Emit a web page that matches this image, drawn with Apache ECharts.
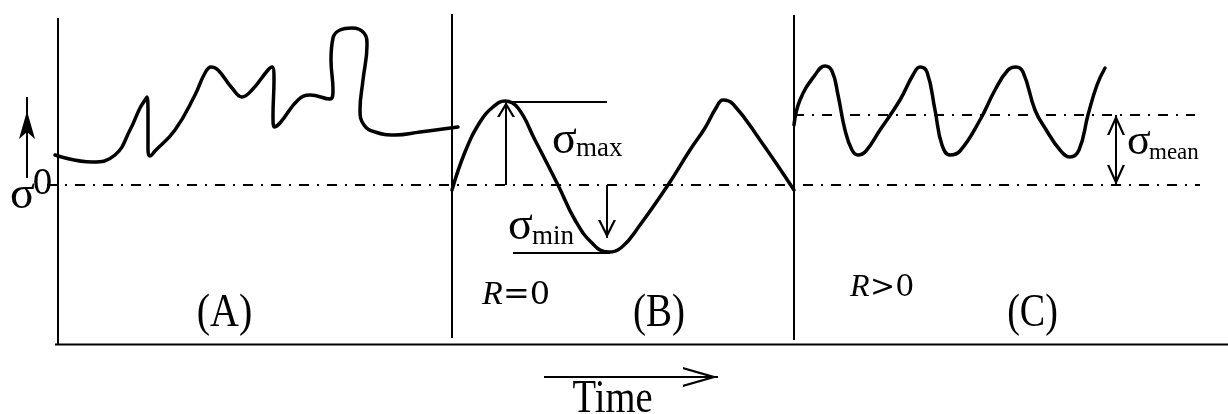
<!DOCTYPE html>
<html>
<head>
<meta charset="utf-8">
<script src="https://cdn.jsdelivr.net/npm/echarts@6/dist/echarts.min.js"></script>
<style>
  html, body { margin: 0; padding: 0; background: #fff; }
  #main { width: 1228px; height: 414px; }
</style>
</head>
<body>
<div id="main"></div>
<script>
// t = time from the left axis, s = stress relative to sigma0 (up is positive)

// (A) irregular loading
const curveA = [[-3,30],[34,23],[57,30],[72,55],[82,77],[87,85],[89,88],[90,70],[90,35],[92,29],[97,34],
  [117,55],[137,90],[147,112],[153,118],[160,115],[174,97],[184,88],[194,95],[210,115],[214,118],
  [216,105],[215,70],[216,58],[222,62],[240,85],[252,90],[272,86],[275,95],[273,125],[275,147],
  [282,155],[294,157],[306,152],[309,140],[305,105],[302,75],[306,60],[317,53],[337,50],[362,53],[400,58]];

// (B) fully reversed, R = 0
const curveB = [[394,-5],[407,33],[422,63],[435,78],[447,84],[460,77],[477,45],[500,0],[517,-35],
  [534,-58],[550,-67],[564,-62],[582,-40],[610,0],[632,35],[647,57],[658,77],[665,85],[675,81],
  [702,45],[736,-5]];

// (C) positive mean stress, R > 0
const curveC = [[736,60],[742,85],[757,110],[767,119],[774,114],[780,90],[787,55],[794,35],[800,30],
  [808,34],[822,55],[842,85],[855,110],[862,118],[869,113],[877,75],[884,40],[892,30],[902,34],
  [922,65],[937,95],[950,115],[958,118],[965,113],[977,75],[987,57],[1002,35],[1012,28],[1021,35],
  [1030,70],[1039,100],[1047,117]];

const sigmaMaxB = 83;
const sigmaMinB = -68;
const sigmaMeanC = 70;
const panelEdges = [394, 736];

// frame, panel separators, sigma_max / sigma_min levels
const solidSegs = [
  [[0,167],[0,-160]],
  [[-3,-159.5],[1170,-159.5]],
  [[panelEdges[0],171],[panelEdges[0],-153]],
  [[panelEdges[1],170],[panelEdges[1],-155]],
  [[447,sigmaMaxB],[549,sigmaMaxB]],
  [[455,sigmaMinB],[552,sigmaMinB]]
];
// dash-dot reference levels
const refSegs = [
  [[-11,0],[1142,0]],
  [[panelEdges[1],sigmaMeanC],[1137,sigmaMeanC]]
];

function chevron(w, h, t) {
  const hw = w / 2;
  const k = t * Math.sqrt(hw * hw + h * h) / h;
  const inner = h * k / hw;
  return 'path://M0,0 L' + hw + ',' + h + ' L' + (hw - k) + ',' + h + ' L0,' + inner +
    ' L' + (k - hw) + ',' + h + ' L' + (-hw) + ',' + h + ' Z';
}

function head(kind, w, h) {
  if (kind === 'none') return {symbol: 'none'};
  return {
    symbol: kind === 'filled' ? 'arrow' : chevron(w, h, 2.2),
    symbolSize: [w, h],
    symbolOffset: [0, h / 2]
  };
}

// arrows: from, to, head at start / end
const arrows = [
  {from: [-31,7], to: [-31,88], a: 'none', b: 'filled', w: 12, h: 28},
  {from: [448,0], to: [448,sigmaMaxB], a: 'none', b: 'open', w: 18, h: 15},
  {from: [549,0], to: [549,-53], a: 'none', b: 'open', w: 18, h: 18},
  {from: [1058,0], to: [1058,sigmaMeanC], a: 'open', b: 'open', w: 18, h: 20},
  {from: [486,-192], to: [660,-192], a: 'none', b: 'open', w: 20, h: 35}
];

const chart = echarts.init(document.getElementById('main'));

const series = [];
solidSegs.forEach(seg => series.push({
  type: 'line', data: seg, showSymbol: false, silent: true,
  lineStyle: {color: '#000', width: 2}
}));
refSegs.forEach(seg => series.push({
  type: 'line', data: seg, showSymbol: false, silent: true,
  lineStyle: {color: '#000', width: 2, type: [10, 8, 2, 8]}
}));
[curveA, curveB, curveC].forEach(c => series.push({
  type: 'line', data: c, showSymbol: false, smooth: 0.45, silent: true,
  lineStyle: {color: '#000', width: 3.5, cap: 'round', join: 'round'}
}));
series.push({
  type: 'line', data: [], silent: true,
  markLine: {
    silent: true,
    animation: false,
    label: {show: false},
    lineStyle: {color: '#000', width: 2, type: 'solid'},
    data: arrows.map(a => [
      Object.assign({coord: a.from}, head(a.a, a.w, a.h)),
      Object.assign({coord: a.to}, head(a.b, a.w, a.h))
    ])
  }
});

chart.setOption({
  animation: false,
  backgroundColor: '#fff',
  grid: {left: 0, right: 0, top: 0, bottom: 0},
  xAxis: {type: 'value', min: -58, max: 1170, show: false},
  yAxis: {type: 'value', min: -229, max: 185, show: false},
  series: series
});

// text annotations: anchor [t, s] at the baseline
const serif = '"Liberation Serif", "Times New Roman", serif';
const wide = '"DejaVu Serif", serif';
const labels = [
  {at: [-48,-22], text: 'σ', size: 46, font: serif},
  {at: [-26,-8], text: '0', size: 33, font: wide},
  {at: [494,33], text: 'σ', size: 46, font: serif},
  {at: [518,30], text: 'max', size: 27, font: serif},
  {at: [450,-53], text: 'σ', size: 46, font: serif},
  {at: [474,-58], text: 'min', size: 27, font: serif},
  {at: [1069,32], text: 'σ', size: 44, font: serif},
  {at: [1091,27], text: 'mean', size: 23, font: serif},
  {at: [424,-118], text: 'R', size: 34, font: serif, italic: true},
  {at: [445,-118], text: '=0', size: 32, font: wide},
  {at: [792,-110], text: 'R', size: 32, font: serif, italic: true},
  {at: [812,-110], text: '>0', size: 30, font: wide},
  {at: [166.5,-140], text: '(A)', size: 47, font: serif, align: 'center', sx: 0.85},
  {at: [601,-140], text: '(B)', size: 47, font: serif, align: 'center', sx: 0.83},
  {at: [974.5,-140], text: '(C)', size: 47, font: serif, align: 'center', sx: 0.81},
  {at: [554.5,-226], text: 'Time', size: 47, font: serif, align: 'center', sx: 0.82}
];

chart.setOption({
  graphic: labels.map(l => {
    const p = chart.convertToPixel({gridIndex: 0}, l.at);
    return {
      type: 'text', silent: true,
      x: p[0], y: p[1] - 0.24 * l.size,
      scaleX: l.sx || 1,
      style: {
        text: l.text, fill: '#000',
        fontSize: l.size, fontFamily: l.font,
        fontStyle: l.italic ? 'italic' : 'normal',
        align: l.align || 'left', verticalAlign: 'middle'
      }
    };
  })
});
</script>
</body>
</html>
